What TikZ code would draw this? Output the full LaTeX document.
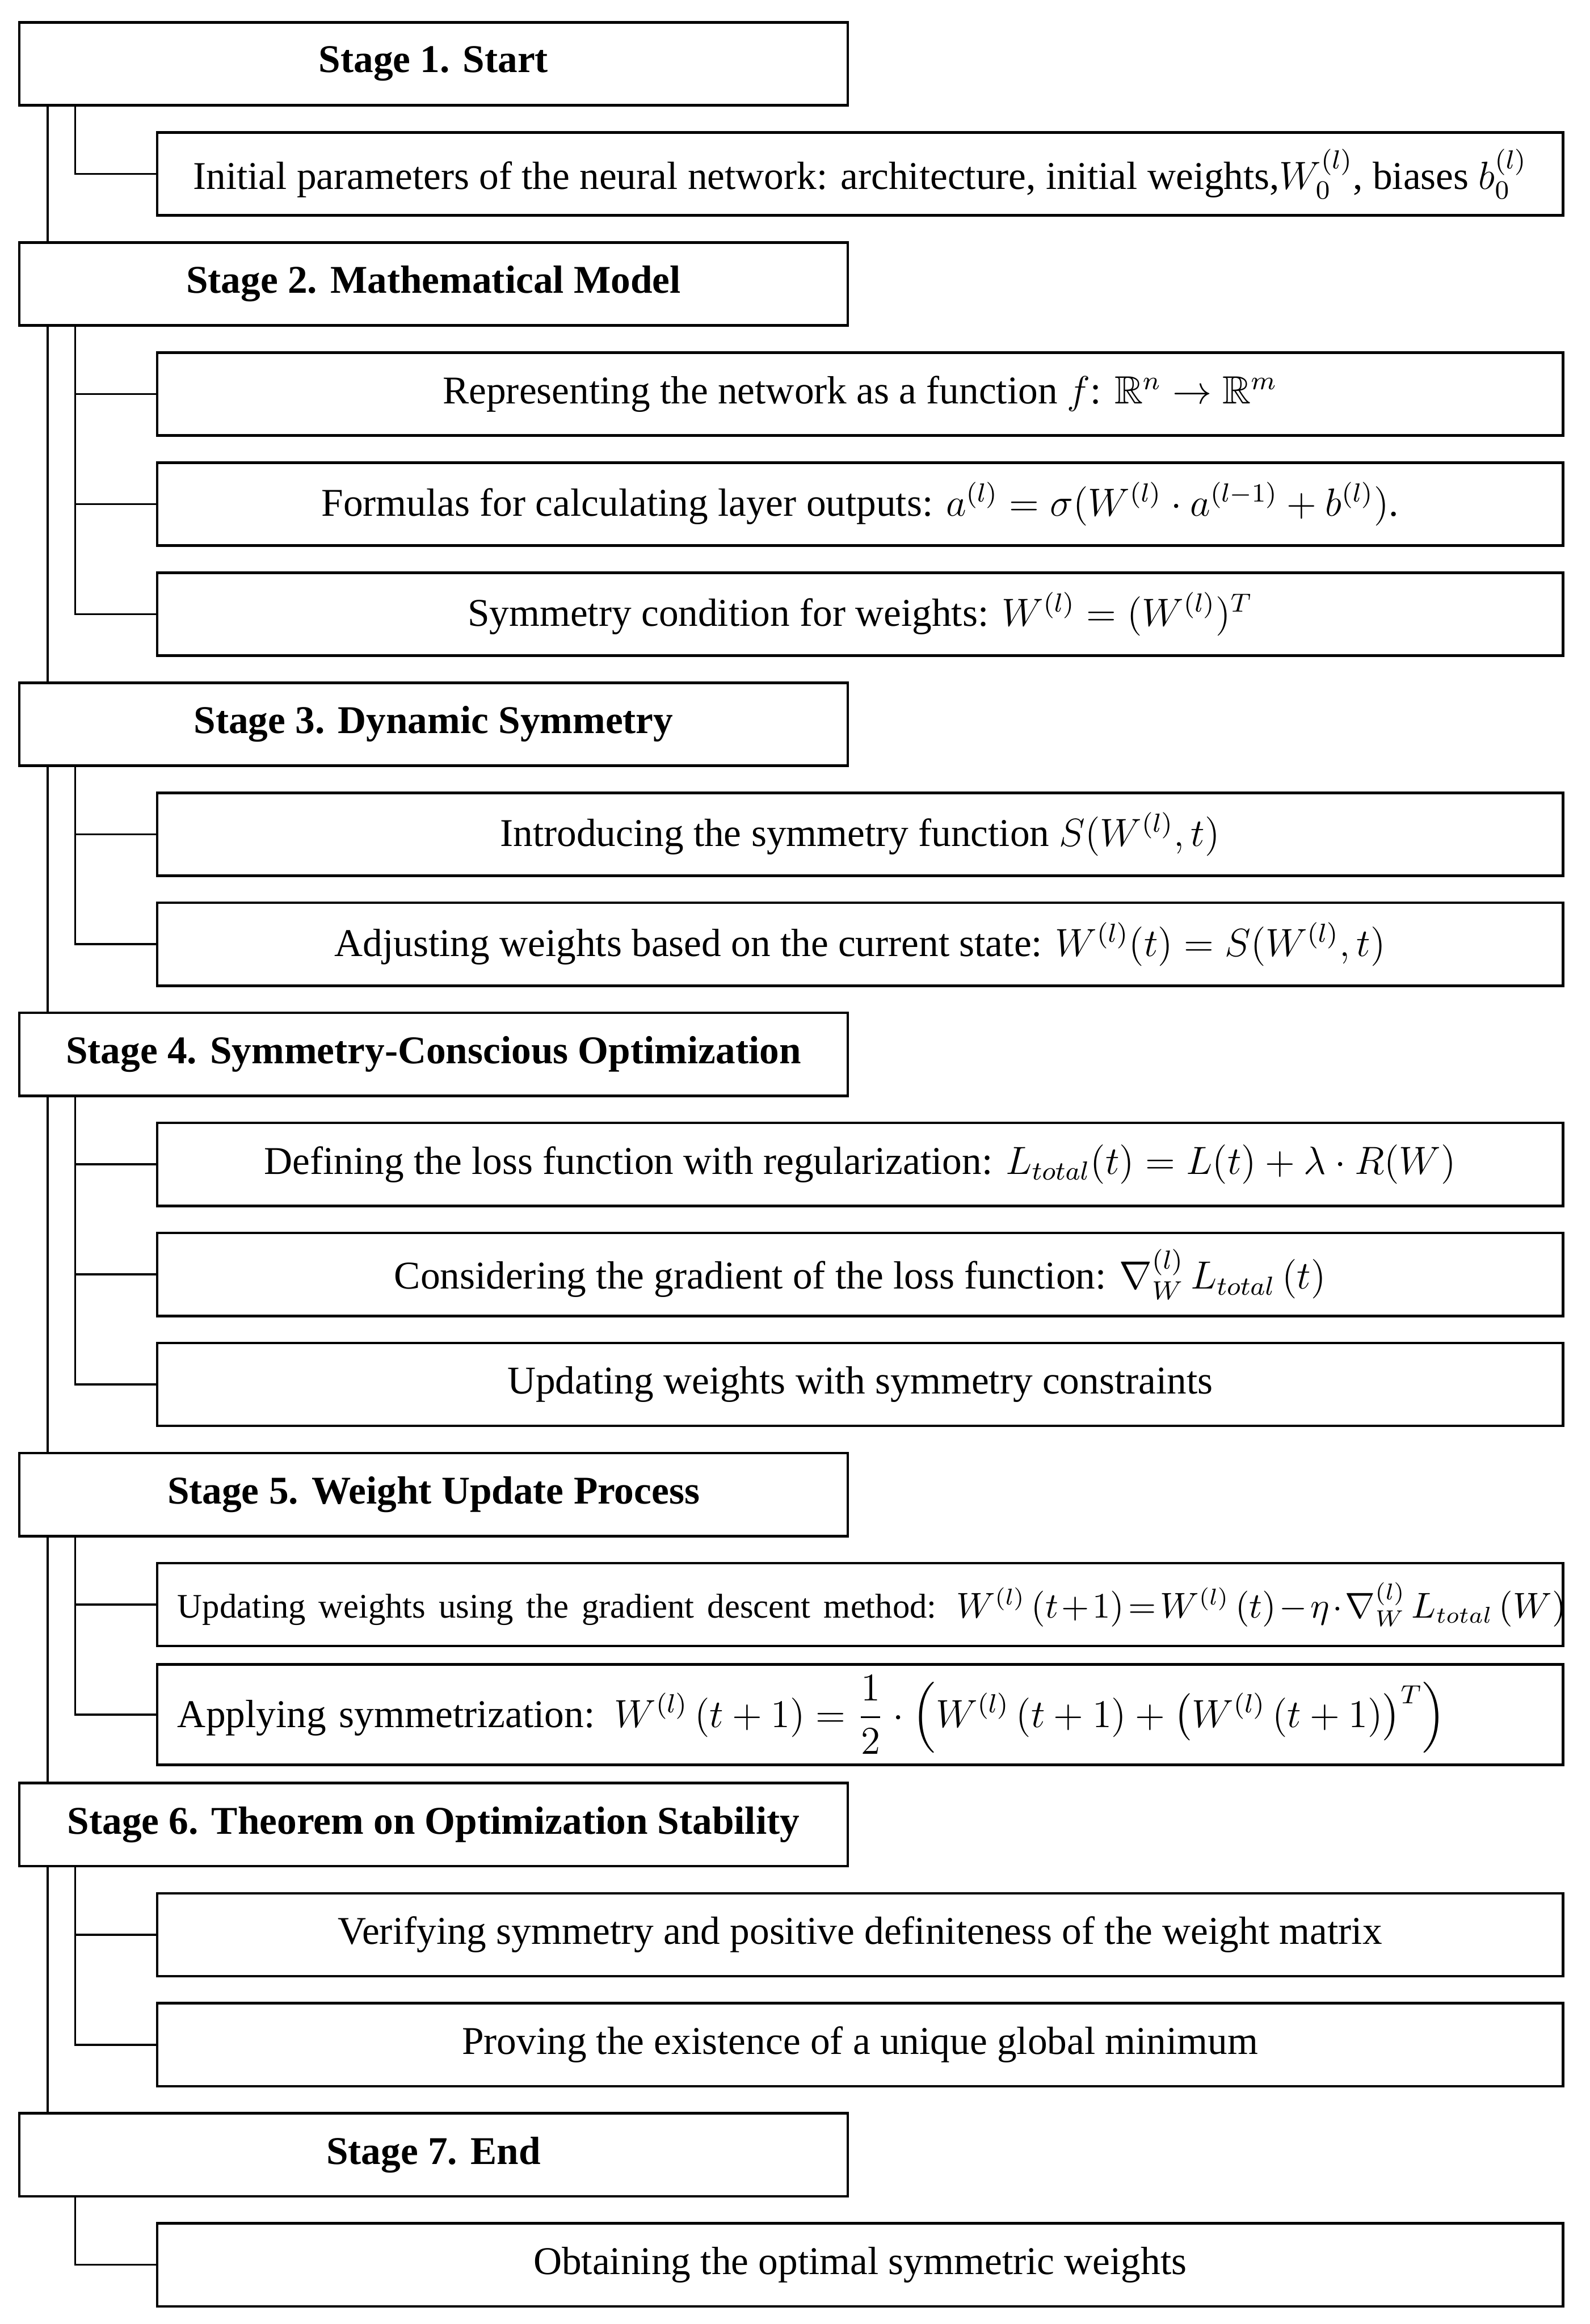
\documentclass[tikz,border=0pt]{standalone}
\usepackage{amsmath,amssymb}
\usepackage{fontspec}
\setmainfont{Liberation Serif}
\usepackage{tikz}
\usetikzlibrary{positioning}

\begin{document}
\begin{tikzpicture}[
            stage/.style={rectangle, draw=black, line width=0.8pt, fill=white, minimum height=0.89cm, minimum width=8.885cm, align=center, font=\fontsize{12}{14.4}\selectfont\bfseries},
            block/.style={rectangle, draw=black, line width=0.8pt, fill=white, minimum height=0.89cm, minimum width=15.08cm, align=center, font=\fontsize{12}{14.4}\selectfont},
            leftblock/.style={block, inner xsep=0.22cm, text width=14.64cm, align=left},
            trunk/.style={line width=0.6pt, color=black},
            branch/.style={line width=0.6pt, color=black}
        ]
            \useasboundingbox[fill=white] (0,0) rectangle (17.05,-24.93);
            \coordinate (spine) at (0.51,0);
            \coordinate (twig) at (0.805,0);

            % Stage 1
            \node[stage] (s1) at (4.65,-0.685) {Stage 1. Start};
            \node[block] (p1) at (9.225,-1.866) {Initial parameters of the neural network: architecture, initial weights,$W_0^{(l)}$, biases $b_0^{(l)}$};

            % Stage 2
            \node[stage] (s2) at (4.65,-3.046) {Stage 2. Mathematical Model};
            \node[block] (m1) at (9.225,-4.227) {Representing the network as a function $f$: $\mathbb{R}^n \rightarrow \mathbb{R}^m$};
            \node[block] (m2) at (9.225,-5.407) {Formulas for calculating layer outputs: $a^{(l)} = \sigma(W^{(l)} \cdot a^{(l-1)} + b^{(l)})$.};
            \node[block] (m3) at (9.225,-6.588) {Symmetry condition for weights: $W^{(l)} = (W^{(l)})^T$};

            % Stage 3
            \node[stage] (s3) at (4.65,-7.768) {Stage 3. Dynamic Symmetry};
            \node[block] (d1) at (9.225,-8.949) {Introducing the symmetry function $S(W^{(l)}, t)$};
            \node[block] (d2) at (9.225,-10.129) {Adjusting weights based on the current state: $W^{(l)}(t) = S(W^{(l)}, t)$};

            % Stage 4
            \node[stage] (s4) at (4.65,-11.310) {Stage 4. Symmetry-Conscious Optimization};
            \node[block] (o1) at (9.225,-12.490) {Defining the loss function with regularization: $L_{total}(t) = L(t) + \lambda \cdot R(W)$};
            \node[block] (o2) at (9.225,-13.671) {Considering the gradient of the loss function: $\nabla_W^{(l)}\,L_{total}\left(t\right)$};
            \node[block] (o3) at (9.225,-14.851) {Updating weights with symmetry constraints};

            % Stage 5
            \node[stage] (s5) at (4.65,-16.032) {Stage 5. Weight Update Process};
            \node[leftblock] (u1) at (9.225,-17.212) {\mbox{\fontsize{10.5}{13}\selectfont\thickmuskip=2mu\medmuskip=1.5mu Updating weights using the gradient descent method: $W^{(l)}\left(t+1\right) = W^{(l)}\left(t\right) - \eta \cdot \nabla_W^{(l)}\,L_{total}\left(W\right)$}};
            \node[leftblock] (u2) at (9.225,-18.393) {Applying symmetrization: $W^{(l)}\left(t+1\right) = \dfrac{1}{2} \cdot \left(W^{(l)}\left(t+1\right) + \left(W^{(l)}\left(t+1\right)\right)^T\right)$};

            % Stage 6
            \node[stage] (s6) at (4.65,-19.573) {Stage 6. Theorem on Optimization Stability};
            \node[block] (v1) at (9.225,-20.754) {Verifying symmetry and positive definiteness of the weight matrix};
            \node[block] (v2) at (9.225,-21.934) {Proving the existence of a unique global minimum};

            % Stage 7
            \node[stage] (s7) at (4.65,-23.115) {Stage 7. End};
            \node[block] (e1) at (9.225,-24.295) {Obtaining the optimal symmetric weights};

            % Main line between stages
            \draw[trunk] (s1.south -| spine) -- (s2.north -| spine);
            \draw[trunk] (s2.south -| spine) -- (s3.north -| spine);
            \draw[trunk] (s3.south -| spine) -- (s4.north -| spine);
            \draw[trunk] (s4.south -| spine) -- (s5.north -| spine);
            \draw[trunk] (s5.south -| spine) -- (s6.north -| spine);
            \draw[trunk] (s6.south -| spine) -- (s7.north -| spine);

            % Branches to the steps of each stage
            \draw[branch] (s1.south -| twig) |- (p1.west);
            \draw[branch] (s2.south -| twig) |- (m1.west) (s2.south -| twig) |- (m2.west) (s2.south -| twig) |- (m3.west);
            \draw[branch] (s3.south -| twig) |- (d1.west) (s3.south -| twig) |- (d2.west);
            \draw[branch] (s4.south -| twig) |- (o1.west) (s4.south -| twig) |- (o2.west) (s4.south -| twig) |- (o3.west);
            \draw[branch] (s5.south -| twig) |- (u1.west) (s5.south -| twig) |- (u2.west);
            \draw[branch] (s6.south -| twig) |- (v1.west) (s6.south -| twig) |- (v2.west);
            \draw[branch] (s7.south -| twig) |- (e1.west);
        \end{tikzpicture}
\end{document}
